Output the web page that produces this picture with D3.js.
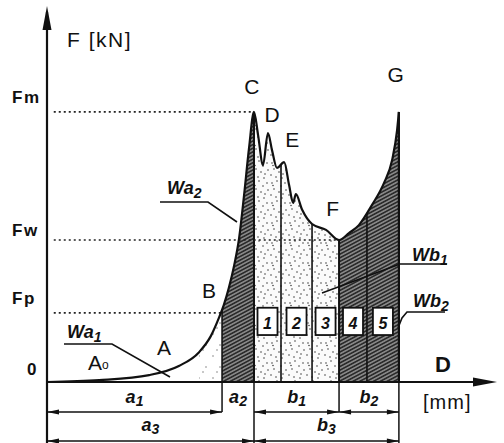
<!DOCTYPE html>
<html>
<head>
<meta charset="utf-8">
<script src="https://cdn.jsdelivr.net/npm/d3@7"></script>
<style>
  body { margin: 0; background: #fff; }
  svg { display: block; }
  text { font-family: "Liberation Sans", Arial, sans-serif; fill: #111; }
  .pt { font-size: 21px; }
  .lev { font-size: 17px; font-weight: bold; letter-spacing: 1.5px; }
  .dim { font-size: 18px; font-weight: bold; font-style: italic; }
  .num { font-size: 16px; font-weight: bold; font-style: italic; }
</style>
</head>
<body>
<svg width="504" height="443"></svg>
<script>
// displacement D [mm] and force F [kN] (relative units)
var dispMM = [0, 11.6, 22.7, 29.3, 33.8, 36.4, 38.2, 39.3, 40.4, 41.6, 42.7, 43.8, 44.9, 46.0,
              46.9, 48.0, 49.1, 50.0, 51.1, 52.7, 53.8, 54.7, 55.3, 56.7, 58.9, 62.0, 64.9,
              67.1, 69.3, 72.2, 74.9, 76.7, 77.8, 78.2];
var forceKN = [0, 0.5, 1.9, 4.4, 8.2, 12.6, 17.6, 21.2, 25.8, 32.1, 39.6, 51.4, 64.3, 74.2,
               67.9, 59.6, 68.4, 63.7, 58.8, 60.4, 54.1, 49.2, 51.6, 47.3, 43.4, 41.8, 39.0,
               40.9, 43.1, 48.6, 54.7, 61.0, 69.2, 74.2];

// named points on the curve
var pointNames = ["A", "B", "C", "D", "E", "F", "G"];
var pointAt = [[26.0, 7.5], [36.0, 23.0], [45.5, 79.0], [50.0, 71.5], [54.5, 64.5], [63.5, 45.5], [77.5, 82.5]];

// force levels
var levelNames = ["Fm", "Fw", "Fp", "0"];
var levelF = [74.2, 39.0, 19.0, 0];
var levelEnd = [46.0, 64.9, 38.9, null];
var levelLift = [9, 4, 9, 7];

// zone borders and the numbered strips
var borders = [38.9, 46.0, 52.0, 58.9, 64.9, 71.1, 78.2];
var stripNums = ["1", "2", "3", "4", "5"];

// fills: [from, to, kind]
var zones = [[33.8, 38.9, "sparse"], [38.9, 46.0, "hatch"], [46.0, 64.9, "dots"], [64.9, 78.2, "hatch"]];

// dimension rows below the axis
var dimRow1 = [["a", "1", 0, 38.9, true], ["a", "2", 38.9, 46.0, false], ["b", "1", 46.0, 64.9, true], ["b", "2", 64.9, 78.2, true]];
var dimRow2 = [["a", "3", 0, 46.0], ["b", "3", 46.0, 78.2]];

var svg = d3.select("svg");
var x = d3.scaleLinear().domain([0, 100]).range([47, 497]);
var y = d3.scaleLinear().domain([0, 100]).range([382, 18]);
var data = dispMM.map(function(d, i) { return [d, forceKN[i]]; });

var defs = svg.append("defs");
var hp = defs.append("pattern").attr("id", "hatch").attr("patternUnits", "userSpaceOnUse")
  .attr("width", 3.2).attr("height", 3.2).attr("patternTransform", "rotate(-28)");
hp.append("rect").attr("width", 3.2).attr("height", 3.2).attr("fill", "#2b2b2b");
hp.append("line").attr("x1", 0).attr("x2", 3.2).attr("y1", 1.6).attr("y2", 1.6)
  .attr("stroke", "#cfcfcf").attr("stroke-width", 0.9);

var dotXY = [[2, 3], [7, 1], [11, 6], [4, 9], [9, 12], [13, 14], [1, 15], [6, 17], [15, 3], [16, 10], [3, 5.5], [12, 18]];
var dp = defs.append("pattern").attr("id", "dots").attr("patternUnits", "userSpaceOnUse")
  .attr("width", 18).attr("height", 20);
dp.append("rect").attr("width", 18).attr("height", 20).attr("fill", "#fbfbfb");
dp.selectAll("circle").data(dotXY).join("circle")
  .attr("cx", function(d) { return d[0]; }).attr("cy", function(d) { return d[1]; })
  .attr("r", 0.8).attr("fill", "#444");
var sp = defs.append("pattern").attr("id", "sparse").attr("patternUnits", "userSpaceOnUse")
  .attr("width", 14).attr("height", 22);
sp.selectAll("circle").data([[3, 4], [10, 15], [7, 20]]).join("circle")
  .attr("cx", function(d) { return d[0]; }).attr("cy", function(d) { return d[1]; })
  .attr("r", 0.7).attr("fill", "#666");

var line = d3.line().x(function(d) { return x(d[0]); }).y(function(d) { return y(d[1]); })
  .curve(d3.curveMonotoneX);
var area = d3.area().x(function(d) { return x(d[0]); }).y0(y(0)).y1(function(d) { return y(d[1]); })
  .curve(d3.curveMonotoneX);

defs.append("clipPath").attr("id", "under").append("path").attr("d", area(data));

// fills
var fills = svg.append("g").attr("clip-path", "url(#under)");
fills.selectAll("rect").data(zones).join("rect")
  .attr("x", function(d) { return x(d[0]); })
  .attr("width", function(d) { return x(d[1]) - x(d[0]); })
  .attr("y", 0).attr("height", y(0))
  .attr("fill", function(d) { return "url(#" + d[2] + ")"; });
fills.selectAll("line").data(borders).join("line")
  .attr("x1", function(d) { return x(d); }).attr("x2", function(d) { return x(d); })
  .attr("y1", 0).attr("y2", y(0))
  .attr("stroke", "#111").attr("stroke-width", function(d, i) { return i == 1 || i == 4 ? 2 : 1.6; });

// dotted levels
svg.selectAll(".lvl").data(levelF.slice(0, 3)).join("line").attr("class", "lvl")
  .attr("x1", x(1.5)).attr("x2", function(d, i) { return x(levelEnd[i]); })
  .attr("y1", function(d) { return y(d); }).attr("y2", function(d) { return y(d); })
  .attr("stroke", "#222").attr("stroke-width", 1.6).attr("stroke-dasharray", "2,3");

// curve
svg.append("path").attr("d", line(data)).attr("fill", "none")
  .attr("stroke", "#111").attr("stroke-width", 2.2);
svg.append("line").attr("x1", x(78.2)).attr("x2", x(78.2)).attr("y1", y(74.2)).attr("y2", y(0))
  .attr("stroke", "#111").attr("stroke-width", 2.2);

// numbered boxes
var boxes = svg.selectAll(".box").data(stripNums).join("g").attr("class", "box")
  .attr("transform", function(d, i) { return "translate(" + x((borders[i + 1] + borders[i + 2]) / 2) + ",0)"; });
boxes.append("rect").attr("x", -10).attr("width", 20).attr("y", y(20.4)).attr("height", y(12.9) - y(20.4))
  .attr("fill", "#fff").attr("stroke", "#111").attr("stroke-width", 1.8);
boxes.append("text").attr("class", "num").attr("text-anchor", "middle").attr("y", y(14.6))
  .text(function(d) { return d; });

// axes
function arrow(x1, y1, x2, y2, len, half) {
  var a = Math.atan2(y2 - y1, x2 - x1), c = Math.cos(a), s = Math.sin(a);
  var bx = x2 - c * len, by = y2 - s * len;
  return "M" + x2 + "," + y2 + "L" + (bx - s * half) + "," + (by + c * half) + "L" + (bx + s * half) + "," + (by - c * half) + "Z";
}
svg.append("line").attr("x1", x(0)).attr("x2", x(0)).attr("y1", 443).attr("y2", 12)
  .attr("stroke", "#111").attr("stroke-width", 2.2);
svg.append("path").attr("d", arrow(x(0), 40, x(0), 6, 24, 4.5)).attr("fill", "#111");
svg.append("line").attr("x1", x(0)).attr("x2", 490).attr("y1", y(0)).attr("y2", y(0))
  .attr("stroke", "#111").attr("stroke-width", 2.2);
svg.append("path").attr("d", arrow(460, y(0), 497, y(0), 24, 4.5)).attr("fill", "#111");

svg.append("text").attr("x", 67).attr("y", 47).attr("font-size", 21)
  .attr("letter-spacing", "1.5px").text("F [kN]");
svg.append("text").attr("x", 435).attr("y", 372).attr("font-size", 22).attr("font-weight", "bold").text("D");
svg.append("text").attr("x", 423).attr("y", 409).attr("font-size", 20)
  .attr("letter-spacing", "1px").text("[mm]");

// level labels
svg.selectAll(".levt").data(levelNames).join("text").attr("class", "lev")
  .attr("x", function(d) { return d == "0" ? 27 : 12; })
  .attr("y", function(d, i) { return y(levelF[i]) - levelLift[i]; })
  .text(function(d) { return d; });

// point labels
svg.selectAll(".ptl").data(pointNames).join("text").attr("class", "pt").attr("text-anchor", "middle")
  .attr("x", function(d, i) { return x(pointAt[i][0]); })
  .attr("y", function(d, i) { return y(pointAt[i][1]); })
  .text(function(d) { return d; });
var a0 = svg.append("text").attr("class", "pt").attr("x", 88).attr("y", 370).text("A");
a0.append("tspan").attr("font-size", 12).attr("dy", -1).text("o");

// work labels with leader lines
var works = [["a", "1", 67, 338, [[64, 344], [112, 344], [170, 377]]],
             ["a", "2", 167, 194, [[160, 202], [208, 202], [237, 222]]],
             ["b", "1", 412, 261, [[447, 264], [400, 264], [322, 293]]],
             ["b", "2", 413, 307, [[445, 312], [407, 312], [402, 318], [398, 328]]]];
works.forEach(function(w) {
  var t = svg.append("text").attr("class", "dim").attr("x", w[2]).attr("y", w[3]);
  t.append("tspan").text("W" + w[0]);
  t.append("tspan").attr("font-size", 14).attr("dy", 4).text(w[1]);
  svg.append("path").attr("d", d3.line()(w[4])).attr("fill", "none")
    .attr("stroke", "#111").attr("stroke-width", 1.6);
});

// dimension rows
var ticks = [[38.9, 412], [46.0, 443], [64.9, 412], [78.2, 443]];
svg.selectAll(".tk").data(ticks).join("line").attr("class", "tk")
  .attr("x1", function(d) { return x(d[0]); }).attr("x2", function(d) { return x(d[0]); })
  .attr("y1", y(0)).attr("y2", function(d) { return d[1]; })
  .attr("stroke", "#111").attr("stroke-width", 1.5);

function dimLine(d, yy) {
  var x1 = x(d[2]), x2 = x(d[3]);
  svg.append("line").attr("x1", x1).attr("x2", x2).attr("y1", yy).attr("y2", yy)
    .attr("stroke", "#111").attr("stroke-width", 1.3);
  svg.append("path").attr("d", arrow(x2 - 20, yy, x2, yy, 12, 2.6)).attr("fill", "#111");
  svg.append("path").attr("d", arrow(x1 + 20, yy, x1, yy, 12, 2.6)).attr("fill", "#111");
}
dimRow1.forEach(function(d) {
  if (d[4]) dimLine(d, 412);
  var t = svg.append("text").attr("class", "dim").attr("text-anchor", "middle")
    .attr("x", (x(d[2]) + x(d[3])) / 2).attr("y", 403);
  t.append("tspan").text(d[0]);
  t.append("tspan").attr("font-size", 14).attr("dy", 3).text(d[1]);
});
dimRow2.forEach(function(d) {
  dimLine(d, 441);
  var t = svg.append("text").attr("class", "dim").attr("text-anchor", "middle")
    .attr("x", (x(d[2]) + x(d[3])) / 2).attr("y", 431);
  t.append("tspan").text(d[0]);
  t.append("tspan").attr("font-size", 14).attr("dy", 3).text(d[1]);
});
</script>
</body>
</html>
